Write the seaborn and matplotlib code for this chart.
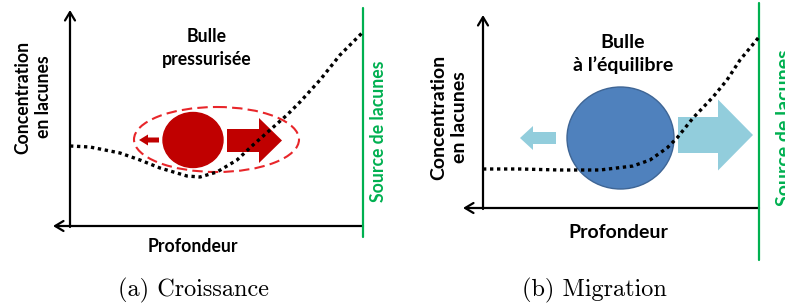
import numpy as np
import pandas as pd
import seaborn as sns
import matplotlib.pyplot as plt
from matplotlib.patches import Ellipse, FancyArrow

# dotted vacancy-concentration profiles (pixel units)
depth_a = [70, 90, 105, 120, 140, 160, 187, 200, 217, 237, 253, 270, 287, 300, 320, 340, 363]
conc_a = [146, 147, 150, 153, 160, 168, 176, 177, 172, 160, 145, 130, 115, 102, 80, 55, 32]
depth_b = [483, 520, 560, 600, 633, 650, 667, 677, 693, 713, 727, 740, 759]
conc_b = [169, 169, 170, 170, 166, 160, 148, 138, 118, 97, 80, 60, 37]

titles = ["Bulle\npressurisée", "Bulle\nà l’équilibre"]
captions = ["(a) Croissance", "(b) Migration"]
ylab = "Concentration\nen lacunes"
xlab = "Profondeur"
source = "Source de lacunes"

sns.set_theme(style="white")
plt.rcParams["font.family"] = ["Lato", "DejaVu Sans"]
plt.rcParams["text.color"] = "black"

fig = plt.figure(figsize=(7.85, 3.06), dpi=100)
ax = fig.add_axes([0, 0, 1, 1])
ax.set_xlim(0, 785)
ax.set_ylim(306, 0)
ax.axis("off")

green = "#00b050"
dark_red = "#c00000"
blue = "#4f81bd"
light_blue = "#92cddc"

# ---- panel (a)
ax.add_patch(Ellipse((216.5, 139.5), 165, 65, fill=False, ec="#e8262a",
                     lw=1.5, ls=(0, (5, 2.5)), zorder=2))
ax.add_patch(Ellipse((193, 140), 60, 55, color=dark_red, zorder=3))
ax.add_patch(FancyArrow(227, 140.5, 55, 0, width=23, head_width=45, head_length=23,
                        length_includes_head=True, color=dark_red, lw=0, zorder=3))
ax.add_patch(FancyArrow(159, 140, -20, 0, width=5, head_width=11, head_length=9,
                        length_includes_head=True, color=dark_red, lw=0, zorder=3))

# ---- panel (b)
ax.add_patch(Ellipse((620.5, 138), 107, 102, fc=blue, ec="#3e6595", lw=1, zorder=3))
ax.add_patch(FancyArrow(678, 135, 75, 0, width=36, head_width=71, head_length=35,
                        length_includes_head=True, color=light_blue, lw=0, zorder=3))
ax.add_patch(FancyArrow(556, 138, -36, 0, width=12, head_width=24, head_length=13,
                        length_includes_head=True, color=light_blue, lw=0, zorder=3))

# profiles
for d, c in [(depth_a, conc_a), (depth_b, conc_b)]:
    sns.lineplot(x=d, y=c, ax=ax, sort=False, color="black", lw=2.4,
                 linestyle=(0, (1, 1.1)), zorder=5)

# axes with arrows and source line
arrow_kw = dict(arrowstyle="->,head_length=0.5,head_width=0.3", color="black",
                lw=1.6, shrinkA=0, shrinkB=0)
for (x0, y0, top, left, right, gtop, gbot) in [(70, 226, 10, 53, 363, 8, 237),
                                               (483, 208, 15, 463, 759, 3, 260)]:
    ax.annotate("", xy=(x0, top), xytext=(x0, y0 + 1), arrowprops=arrow_kw, zorder=4)
    ax.annotate("", xy=(left, y0), xytext=(right, y0), arrowprops=arrow_kw, zorder=4)
    ax.plot([right, right], [gtop, gbot], color=green, lw=1.6, zorder=4)

# texts
fa, fb = 12.7, 14
ax.text(207, 48, titles[0], ha="center", va="center", fontsize=fa, fontweight="bold",
        linespacing=1.36)
ax.text(623, 54, titles[1], ha="center", va="center", fontsize=fb, fontweight="bold",
        linespacing=1.3)
ax.text(33, 97, ylab, ha="center", va="center", rotation=90, fontsize=fa,
        fontweight="bold", linespacing=1.25)
ax.text(449, 117, ylab, ha="center", va="center", rotation=90, fontsize=fb,
        fontweight="bold", linespacing=1.28)
ax.text(193, 247, xlab, ha="center", va="center", fontsize=fa, fontweight="bold")
ax.text(618, 232, xlab, ha="center", va="center", fontsize=fb, fontweight="bold")
ax.text(379, 131, source, ha="center", va="center", rotation=90, fontsize=fa,
        fontweight="bold", color=green)
ax.text(784, 128, source, ha="center", va="center", rotation=90, fontsize=fb,
        fontweight="bold", color=green)
ax.text(194, 290, captions[0], ha="center", va="center", fontsize=17.5, family="cmr10")
ax.text(594, 290, captions[1], ha="center", va="center", fontsize=17.5, family="cmr10")

fig.savefig("out.png", dpi=100)
